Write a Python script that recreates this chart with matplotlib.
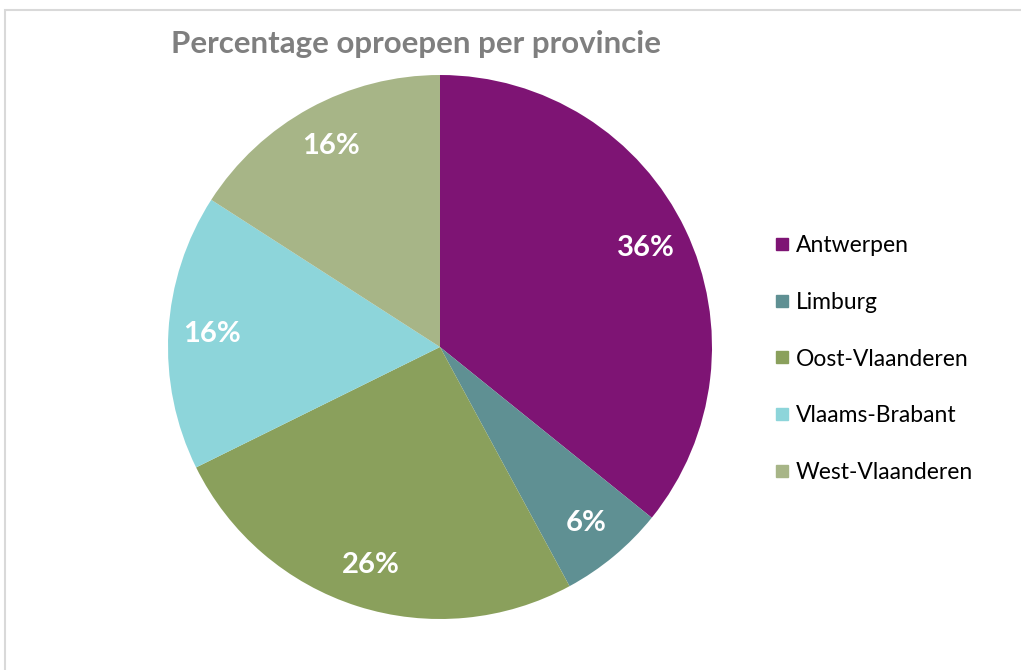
import matplotlib
matplotlib.use("Agg")
import matplotlib.pyplot as plt
from matplotlib.patches import Rectangle
from matplotlib.lines import Line2D

# data
provinces = ["Antwerpen", "Limburg", "Oost-Vlaanderen", "Vlaams-Brabant", "West-Vlaanderen"]
shares = [35.8, 6.3, 25.6, 16.4, 15.9]
colors = ["#7E1474", "#5F9093", "#8AA05C", "#8DD5DA", "#A7B587"]
title = "Percentage oproepen per provincie"

plt.rcParams["font.family"] = ["Lato", "DejaVu Sans"]

W, H = 1021, 670
fig = plt.figure(figsize=(W / 100, H / 100), dpi=100)

# light chart-area border (top and left visible)
fig.patches.append(Rectangle((5 / W, -0.1), 1.2, (H - 10) / H + 0.1, transform=fig.transFigure,
                             fill=False, edgecolor="#D9D9D9", linewidth=1.5))

# pie axes placed in pixels: centre (440, 347), radius 272
cx, cy, r = 440, 347, 272
ax = fig.add_axes([(cx - r) / W, (H - cy - r) / H, 2 * r / W, 2 * r / H])
wedges, _, autotexts = ax.pie(shares, colors=colors, startangle=90, counterclock=False,
                              radius=1, autopct="%1.0f%%", pctdistance=0.84,
                              wedgeprops=dict(linewidth=0),
                              textprops=dict(color="white", fontsize=21, fontweight="bold"))
ax.set_xlim(-1, 1)
ax.set_ylim(-1, 1)
ax.set_aspect("auto")
ax.axis("off")

fig.text(416 / W, 1 - 44 / H, title, ha="center", va="center",
         fontsize=22.5, fontweight="bold", color="#7F7F7F")

handles = [Line2D([], [], marker="s", linestyle="", markersize=9,
                  markerfacecolor=c, markeredgecolor=c) for c in colors]
fig.legend(handles, provinces, loc="center left", bbox_to_anchor=(764 / W, 1 - 359 / H),
           frameon=False, fontsize=16.5, handlelength=0.6, handletextpad=0.3,
           labelspacing=1.55, borderpad=0)

fig.savefig("out.png", dpi=100)
